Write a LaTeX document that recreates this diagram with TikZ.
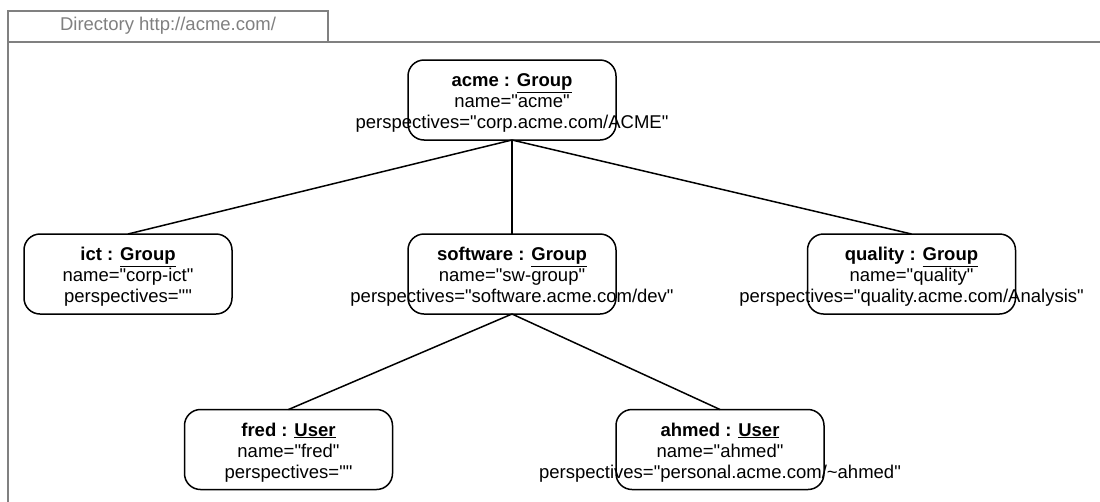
\documentclass[tikz,border=0pt]{standalone}
\usepackage{fontspec}
\setmainfont{Liberation Sans}[Ligatures=TeXOff]
\usepackage{tikz}

\newcommand{\objlines}[4]{%
  \makebox[0pt]{\rule{0pt}{19pt}\textbf{#1 : \underline{#2}}}\\
  \makebox[0pt]{#3}\\
  \makebox[0pt]{#4}}

\begin{document}
\begin{tikzpicture}[x=1pt, y=-1pt,
    objbox/.style={draw, line width=1.5pt, rectangle, rounded corners=16pt,
      minimum width=208pt, minimum height=80pt, inner sep=0pt, outer sep=0pt,
      align=center, font=\fontsize{18.5}{21}\selectfont},
    link/.style={line width=1.5pt},
    frameline/.style={draw=gray, line width=1.5pt}]
            \useasboundingbox (0,0) rectangle (1100,501);
            \clip (0,0) rectangle (1100,501);

            % Directory frame and its tab
            \draw[frameline] (8,11) rectangle (328,42);
            \draw[frameline] (1110,42) -- (8,42) -- (8,510);
            \node[gray, font=\fontsize{18.5}{21}\selectfont] (tab) at (168,26) {Directory http://acme.com/};

            % Groups
            \node[objbox] (acme) at (512,100) {\objlines{acme}{Group}{name="acme"}{perspectives="corp.acme.com/ACME"}};
            \node[objbox] (ict) at (128,274) {\objlines{ict}{Group}{name="corp-ict"}{perspectives=""}};
            \node[objbox] (software) at (512,274) {\objlines{software}{Group}{name="sw-group"}{perspectives="software.acme.com/dev"}};
            \node[objbox] (quality) at (911.5,274) {\objlines{quality}{Group}{name="quality"}{perspectives="quality.acme.com/Analysis"}};

            % Users
            \node[objbox] (fred) at (288.5,449.5) {\objlines{fred}{User}{name="fred"}{perspectives=""}};
            \node[objbox] (ahmed) at (720,449.5) {\objlines{ahmed}{User}{name="ahmed"}{perspectives="personal.acme.com/\textasciitilde ahmed"}};

            % Links
            \draw[link] (acme.south) -- (ict.north);
            \draw[link] (acme.south) -- (software.north);
            \draw[link] (acme.south) -- (quality.north);
            \draw[link] (software.south) -- (fred.north);
            \draw[link] (software.south) -- (ahmed.north);
        \end{tikzpicture}
\end{document}
